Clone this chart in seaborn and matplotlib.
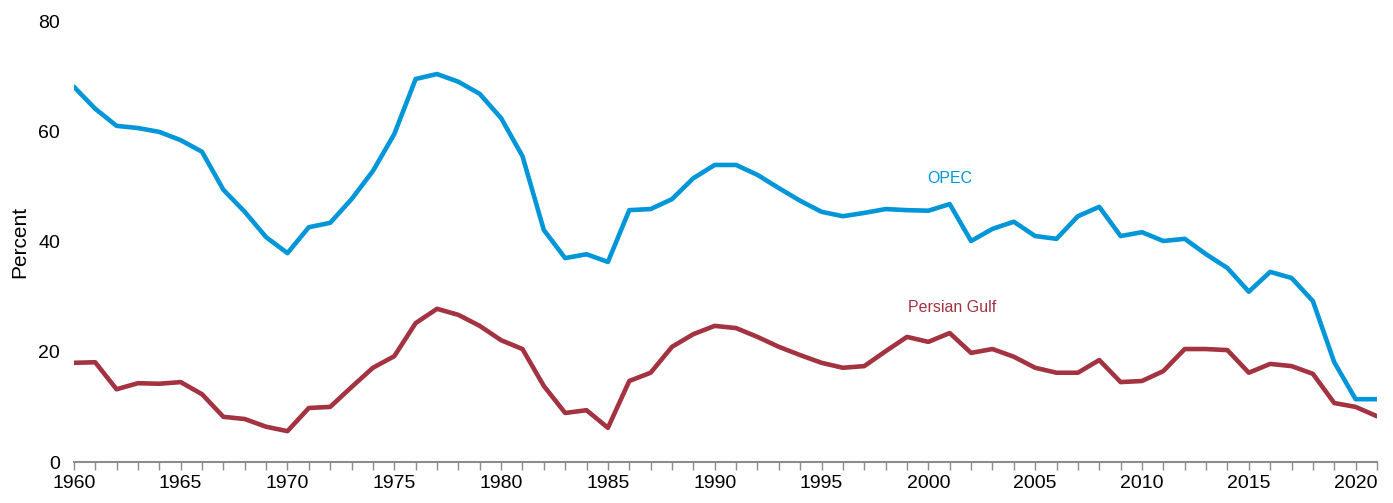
import numpy as np
import pandas as pd
import matplotlib.pyplot as plt
import seaborn as sns
from matplotlib.ticker import MultipleLocator

# Data
years = list(range(1960, 2022))
opec = [68.1, 64.1, 61.0, 60.6, 59.9, 58.4, 56.3, 49.4, 45.4, 40.8,
        37.9, 42.6, 43.4, 47.7, 52.8, 59.5, 69.5, 70.4, 69.0, 66.8,
        62.4, 55.5, 42.1, 37.0, 37.7, 36.3, 45.7, 45.9, 47.7, 51.5,
        53.9, 53.9, 52.1, 49.7, 47.4, 45.4, 44.6, 45.2, 45.9, 45.7,
        45.6, 46.8, 40.1, 42.3, 43.6, 41.0, 40.5, 44.6, 46.3, 41.0,
        41.7, 40.1, 40.5, 37.7, 35.2, 30.9, 34.5, 33.4, 29.2, 18.1,
        11.4, 11.4]
persian_gulf = [18.0, 18.1, 13.2, 14.3, 14.2, 14.5, 12.3, 8.2, 7.8, 6.4,
                5.6, 9.8, 10.0, 13.6, 17.1, 19.2, 25.2, 27.8, 26.7, 24.7,
                22.1, 20.5, 13.8, 8.9, 9.4, 6.2, 14.7, 16.2, 20.9, 23.2,
                24.7, 24.3, 22.7, 20.9, 19.4, 18.0, 17.1, 17.4, 20.1, 22.7,
                21.8, 23.4, 19.8, 20.5, 19.1, 17.1, 16.2, 16.2, 18.5, 14.5,
                14.7, 16.5, 20.5, 20.5, 20.3, 16.2, 17.8, 17.4, 16.0, 10.7,
                10.0, 8.3]

df = pd.DataFrame({'year': years, 'OPEC': opec, 'Persian Gulf': persian_gulf})
long_df = df.melt(id_vars='year', var_name='region', value_name='percent')

colors = {'OPEC': '#0096D7', 'Persian Gulf': '#A33340'}

sns.set_style('white')
plt.rcParams['font.family'] = ['Liberation Sans', 'DejaVu Sans']

fig = plt.figure(figsize=(13.93, 5.03), dpi=100)
ax = fig.add_axes([0.053, 0.0815, 0.9355, 0.8765])

sns.lineplot(data=long_df, x='year', y='percent', hue='region', palette=colors,
             linewidth=3.3, legend=False, ax=ax)

# direct labels instead of a legend
ax.text(2001.0, 51.4, 'OPEC', color=colors['OPEC'], fontsize=11.5,
        ha='center', va='center')
ax.text(2001.1, 28.0, 'Persian Gulf', color=colors['Persian Gulf'], fontsize=11.5,
        ha='center', va='center')

ax.set_xlim(1960, 2021)
ax.set_ylim(0, 80)
ax.set_yticks([0, 20, 40, 60, 80])
ax.xaxis.set_major_locator(MultipleLocator(5))
ax.xaxis.set_minor_locator(MultipleLocator(1))
ax.tick_params(axis='x', which='both', direction='out', length=6, width=1,
               color='#8c8c8c', labelsize=14, labelcolor='black', pad=3, bottom=True)
ax.tick_params(axis='y', which='both', length=0, labelsize=14,
               labelcolor='black', pad=10)

ax.set_xlabel('')
ax.set_ylabel('Percent', fontsize=15, color='black', labelpad=6)

for side in ['top', 'right', 'left']:
    ax.spines[side].set_visible(False)
ax.spines['bottom'].set_color('#8c8c8c')
ax.spines['bottom'].set_linewidth(1.5)

fig.savefig('out.png', dpi=100)
